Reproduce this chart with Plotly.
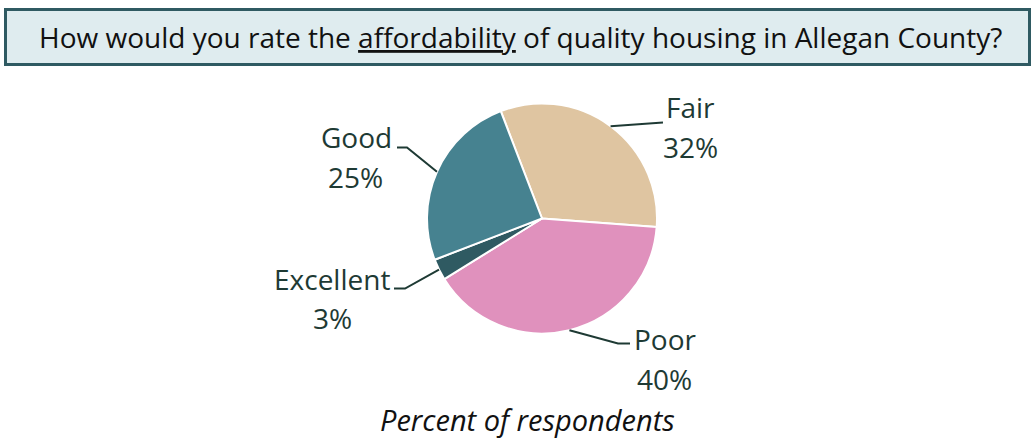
import math
import plotly.graph_objects as go

# ---- data ----
categories = ["Fair", "Poor", "Excellent", "Good"]
values = [32, 40, 3, 25]
pct_labels = ["32%", "40%", "3%", "25%"]
colors = ["#DFC5A1", "#E091BD", "#2F5A62", "#468290"]

title_plain_1 = "How would you rate the "
title_under = "affordability"
title_plain_2 = " of quality housing in Allegan County?"
footer = "Percent of respondents"

# ---- layout (pixels) ----
W, H = 1033, 438
cx, cy, R = 542, 218.5, 115
rotation = -21

def px(x):
    return x / W

def py(y):
    return 1 - y / H

# label name centre, percent centre, leader elbow points (from label side)
label_pos = {
    "Fair": dict(name=(690, 107), pct=(690, 147), leader=[(663, 122.5)]),
    "Poor": dict(name=(665, 339), pct=(664, 379), leader=[(630, 343.5), (618, 343.5)]),
    "Excellent": dict(name=(332, 279), pct=(332, 318), leader=[(394, 288.5), (405, 288.5)]),
    "Good": dict(name=(356, 137), pct=(355, 177), leader=[(397, 147.5), (407, 147.5)]),
}

fig = go.Figure()
fig.add_trace(go.Pie(
    labels=categories,
    values=values,
    sort=False,
    direction="clockwise",
    rotation=rotation,
    marker=dict(colors=colors, line=dict(color="white", width=2)),
    textinfo="none",
    hoverinfo="label+percent",
    showlegend=False,
    domain=dict(x=[px(cx - R), px(cx + R)], y=[py(cy + R), py(cy - R)]),
))

annotations = []
shapes = []

# title box
shapes.append(dict(type="rect", xref="paper", yref="paper",
                   x0=px(5.5), x1=px(1029.5), y0=py(64.5), y1=py(9.5),
                   fillcolor="#DFECEF", line=dict(color="#2F5A62", width=3), layer="below"))
annotations.append(dict(xref="paper", yref="paper", x=px(520), y=py(37),
                        text=title_plain_1 + "<u>" + title_under + "</u>" + title_plain_2,
                        showarrow=False, xanchor="center", yanchor="middle",
                        font=dict(family="Open Sans", size=28, color="#111111")))

# slice labels and leader lines (leader end computed from slice mid-angle)
total = sum(values)
start = rotation
label_color = "#1E3A34"
for cat, v, pl in zip(categories, values, pct_labels):
    span = 360 * v / total
    mid = math.radians(start + span / 2)
    start += span
    ex = cx + R * math.sin(mid)
    ey = cy - R * math.cos(mid)
    lp = label_pos[cat]
    pts = lp["leader"] + [(ex, ey)]
    path = "M " + " L ".join(f"{px(x)},{py(y)}" for x, y in pts)
    shapes.append(dict(type="path", xref="paper", yref="paper", path=path,
                       line=dict(color=label_color, width=2)))
    annotations.append(dict(xref="paper", yref="paper", x=px(lp["name"][0]), y=py(lp["name"][1]),
                            text=cat, showarrow=False, xanchor="center", yanchor="middle",
                            font=dict(family="Open Sans", size=28, color=label_color)))
    annotations.append(dict(xref="paper", yref="paper", x=px(lp["pct"][0]), y=py(lp["pct"][1]),
                            text=pl, showarrow=False, xanchor="center", yanchor="middle",
                            font=dict(family="Open Sans", size=28, color=label_color)))

annotations.append(dict(xref="paper", yref="paper", x=px(527), y=py(419),
                        text="<i>" + footer + "</i>", showarrow=False,
                        xanchor="center", yanchor="middle",
                        font=dict(family="Open Sans", size=29, color="#111111")))

fig.update_layout(
    width=W, height=H,
    margin=dict(l=0, r=0, t=0, b=0),
    paper_bgcolor="white", plot_bgcolor="white",
    annotations=annotations, shapes=shapes,
)

fig.write_html("out.html", config={"displayModeBar": False},
               post_script="document.body.style.margin='0';document.body.style.padding='0';")
